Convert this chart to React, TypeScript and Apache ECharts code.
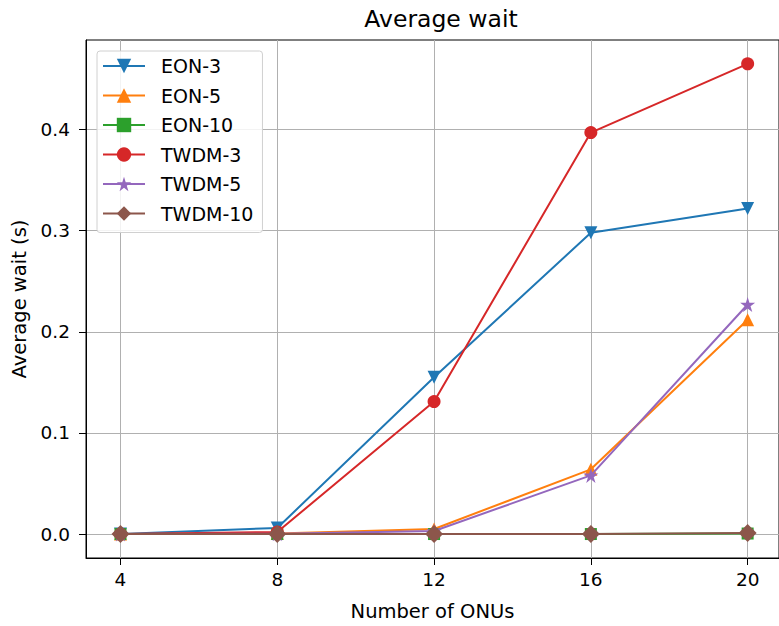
import React, { useEffect, useRef } from "react";
import * as echarts from "echarts";

const onus = [4, 8, 12, 16, 20];
const seriesNames = ["EON-3", "EON-5", "EON-10", "TWDM-3", "TWDM-5", "TWDM-10"];
const eon3 = [0, 0.006, 0.155, 0.298, 0.322];
const eon5 = [0, 0.0005, 0.005, 0.064, 0.212];
const eon10 = [0, 0, 0, 0, 0.0005];
const twdm3 = [0, 0.002, 0.131, 0.397, 0.465];
const twdm5 = [0, 0.0003, 0.003, 0.058, 0.227];
const twdm10 = [0, 0, 0, 0, 0.001];
const yTicks = [0, 0.1, 0.2, 0.3, 0.4];

const STAR =
  "path://M50,0 L61.23,34.55 L97.55,34.55 L68.16,55.9 L79.39,90.45 L50,69.1 L20.61,90.45 L31.84,55.9 L2.45,34.55 L38.77,34.55 Z";
const TRI_DOWN = "path://M0,0 L100,0 L50,100 Z";

const colors = ["#1f77b4", "#ff7f0e", "#2ca02c", "#d62728", "#9467bd", "#8c564b"];
const symbols = [TRI_DOWN, "triangle", "rect", "circle", STAR, "diamond"];
const sizes = [13, 13, 12, 13, 15, 18];
const values = [eon3, eon5, eon10, twdm3, twdm5, twdm10];

const FONT = "DejaVu Sans";

export default function App() {
  const ref = useRef<HTMLDivElement>(null);
  useEffect(() => {
    if (!ref.current) return;
    const chart = echarts.init(ref.current, null, { renderer: "svg" });
    const series = seriesNames.map((name, i) => ({
      name,
      type: "line",
      data: onus.map((x, j) => [x, values[i][j]]),
      symbol: symbols[i],
      symbolSize: sizes[i],
      showAllSymbol: true,
      lineStyle: { color: colors[i], width: 2 },
      itemStyle: { color: colors[i], borderWidth: 0 },
      emphasis: { disabled: true },
      z: 2 + i,
    }));
    chart.setOption({
      animation: false,
      color: colors,
      title: {
        text: "Average wait",
        left: 436,
        top: 2,
        textAlign: "center",
        textStyle: { fontFamily: FONT, fontSize: 23.5, fontWeight: "normal", color: "#000" },
      },
      grid: {
        left: 86,
        top: 40,
        right: -7,
        bottom: 60,
        show: true,
        borderColor: "#000",
        borderWidth: 1,
        backgroundColor: "#fff",
      },
      legend: {
        orient: "vertical",
        left: 97,
        top: 51,
        data: seriesNames,
        itemWidth: 42,
        itemHeight: 18,
        itemGap: 9.5,
        padding: [5, 9, 9, 5],
        backgroundColor: "rgba(255,255,255,0.85)",
        borderColor: "#d0d0d0",
        borderWidth: 1,
        borderRadius: 3,
        textStyle: {
          fontFamily: FONT,
          fontSize: 19,
          lineHeight: 20,
          color: "#000",
          padding: [0, 0, 0, 11],
        },
      },
      xAxis: {
        type: "value",
        min: 3.12,
        max: 20.8,
        name: "Number of ONUs",
        nameLocation: "middle",
        nameGap: 43,
        nameTextStyle: { fontFamily: FONT, fontSize: 19.5, color: "#000" },
        axisLine: { show: true, onZero: false, lineStyle: { color: "#000", width: 1 } },
        axisTick: { show: true, length: 7, lineStyle: { color: "#000" }, customValues: onus },
        axisLabel: {
          fontFamily: FONT,
          fontSize: 18.5,
          color: "#000",
          margin: 12,
          customValues: onus,
          formatter: (v: number) => String(v),
        },
        splitLine: { show: true, lineStyle: { color: "#b0b0b0", width: 1 } },
      },
      yAxis: {
        type: "value",
        min: -0.0237,
        max: 0.4886,
        name: "Average wait (s)",
        nameLocation: "middle",
        nameGap: 56,
        nameTextStyle: { fontFamily: FONT, fontSize: 19.5, color: "#000" },
        axisLine: { show: true, onZero: false, lineStyle: { color: "#000", width: 1 } },
        axisTick: { show: true, length: 7, lineStyle: { color: "#000" }, customValues: yTicks },
        axisLabel: {
          fontFamily: FONT,
          fontSize: 18.5,
          color: "#000",
          margin: 16,
          customValues: yTicks,
          formatter: (v: number) => v.toFixed(1),
        },
        splitLine: { show: true, lineStyle: { color: "#b0b0b0", width: 1 } },
      },
      series,
    });
    return () => chart.dispose();
  }, []);
  return (
    <div
      ref={ref}
      style={{ position: "fixed", left: 0, top: 0, width: 779, height: 626, background: "#fff" }}
    />
  );
}
